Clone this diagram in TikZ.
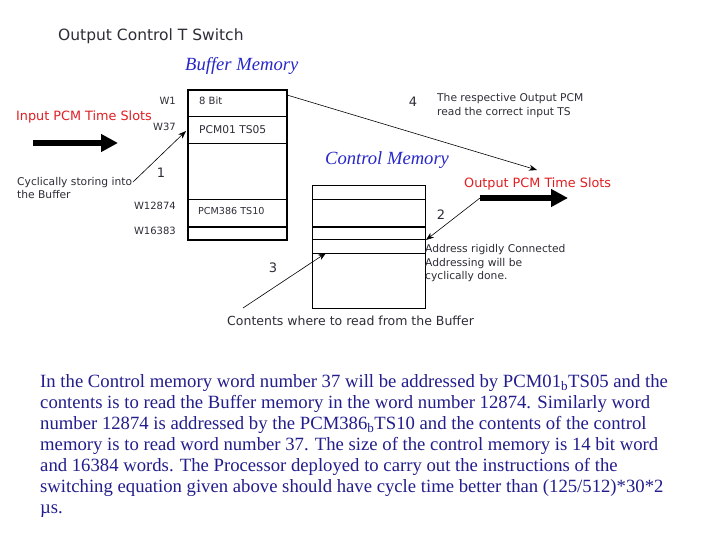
\documentclass[tikz,border=0pt]{standalone}
\usepackage{fontspec}
\setmainfont{Liberation Serif}
\setsansfont{DejaVu Sans}
\usetikzlibrary{arrows.meta}
\definecolor{redlab}{RGB}{225,30,35}
\definecolor{bluehead}{RGB}{40,40,200}
\definecolor{navytext}{RGB}{35,30,140}
\definecolor{graytext}{RGB}{45,45,55}
\begin{document}
\begin{tikzpicture}[x=1pt,y=-1pt,
  lab/.style={font=\sffamily\fontsize{10.7}{13.2}\selectfont, inner sep=0pt, anchor=west, text=graytext},
  wlab/.style={font=\sffamily\fontsize{10}{12}\selectfont, inner sep=0pt, anchor=east, text=graytext},
  num/.style={font=\sffamily\fontsize{13}{15}\selectfont, inner sep=0pt, text=graytext},
  redtext/.style={font=\sffamily\fontsize{12.8}{15}\selectfont, inner sep=0pt, anchor=west, text=redlab},
  head/.style={font=\rmfamily\itshape\fontsize{18.6}{22}\selectfont, inner sep=0pt, anchor=west, text=bluehead},
  memline/.style={line width=1pt},
  thinarrow/.style={line width=0.6pt, -{Stealth[length=8pt,width=6pt]}},
  fatarrow/.style={line width=6pt, -{Triangle[length=17pt,width=17pt]}},
]
\useasboundingbox[fill=white] (0,0) rectangle (720,540);

% title
\node[font=\sffamily\fontsize{15.5}{18}\selectfont, inner sep=0pt, anchor=west, text=graytext] (title) at (58,36) {Output Control T Switch};

% Buffer memory
\node[head] (bufhead) at (185,66) {Buffer Memory};
\node[draw, line width=2pt, minimum width=99pt, minimum height=150pt, inner sep=0pt, anchor=north west] (buf) at (187,89) {};
\draw[memline] (187,117) -- (286,117);
\draw[memline] (187,144) -- (286,144);
\draw[memline] (187,200) -- (286,200);
\draw[line width=2pt] (187,227) -- (286,227);
\node[lab, font=\sffamily\fontsize{10}{12}\selectfont] (b1) at (199,101) {8 Bit};
\node[lab] (b2) at (199,130) {PCM01 TS05};
\node[lab, font=\sffamily\fontsize{9.6}{11}\selectfont] (b3) at (198,211) {PCM386 TS10};
\node[wlab] (w1) at (176,101) {W1};
\node[wlab] (w37) at (176,127) {W37};
\node[wlab] (w12874) at (176,206) {W12874};
\node[wlab] (w16383) at (176,231) {W16383};

% Input side
\node[redtext] (inpcm) at (16,117) {Input PCM Time Slots};
\coordinate (inA) at (33,143);
\coordinate (inB) at (118,143);
\draw[fatarrow] (inA) -- (inB);
\node[lab, align=left, anchor=north west, font=\sffamily\fontsize{10.7}{12.5}\selectfont] (cyc) at (17,177.5) {Cyclically storing into\\the Buffer};
\coordinate (a1s) at (133,182);
\coordinate (a1e) at (186,131);
\draw[thinarrow] (a1s) -- (a1e);
\node[num] (n1) at (161,173) {1};

% Arrow 4
\coordinate (a4s) at (287,95);
\coordinate (a4e) at (537,170);
\draw[thinarrow] (a4s) -- (a4e);
\node[num] (n4) at (413,102) {4};
\node[lab, align=left, anchor=north west] (resp) at (437,93.5) {The respective Output PCM\\read the correct input TS};

% Control memory
\node[head] (ctrlhead) at (325,160) {Control Memory};
\node[draw, line width=0.8pt, minimum width=113pt, minimum height=123pt, inner sep=0pt, anchor=north west] (ctrl) at (312,185) {};
\draw[line width=0.8pt] (312,199) -- (425,199);
\draw[line width=2pt] (312,227) -- (425,227);
\draw[line width=0.8pt] (312,239) -- (425,239);
\draw[line width=0.8pt] (312,253) -- (425,253);

% Output side
\node[redtext] (outpcm) at (464,184) {Output PCM Time Slots};
\coordinate (outA) at (480,198);
\coordinate (outB) at (568,198);
\draw[fatarrow] (outA) -- (outB);
\coordinate (a2e) at (426,240);
\draw[thinarrow] (outA) -- (a2e);
\node[num] (n2) at (441,215) {2};
\node[lab, align=left, anchor=north west, font=\sffamily\fontsize{10.7}{13.5}\selectfont] (addr) at (425,244.5) {Address rigidly Connected\\Addressing will be\\cyclically done.};

% Arrow 3
\coordinate (a3s) at (243,308);
\coordinate (a3e) at (326,253);
\draw[thinarrow] (a3s) -- (a3e);
\node[num] (n3) at (273,268) {3};
\node[lab, font=\sffamily\fontsize{12.5}{14}\selectfont] (contents) at (227,321) {Contents where to read from the Buffer};

% Paragraph
\node[inner sep=0pt, anchor=north west, align=left, text=navytext, font=\rmfamily\fontsize{18.7}{21}\selectfont] (para) at (40,374)
{In the Control memory word number 37 will be addressed by PCM01\textsubscript{b}TS05 and the\\
contents is to read the Buffer memory in the word number 12874. Similarly word\\
number 12874 is addressed by the PCM386\textsubscript{b}TS10 and the contents of the control\\
memory is to read word number 37. The size of the control memory is 14 bit word\\
and 16384 words. The Processor deployed to carry out the instructions of the\\
switching equation given above should have cycle time better than (125/512)*30*2\\
µs.};
\end{tikzpicture}
\end{document}
